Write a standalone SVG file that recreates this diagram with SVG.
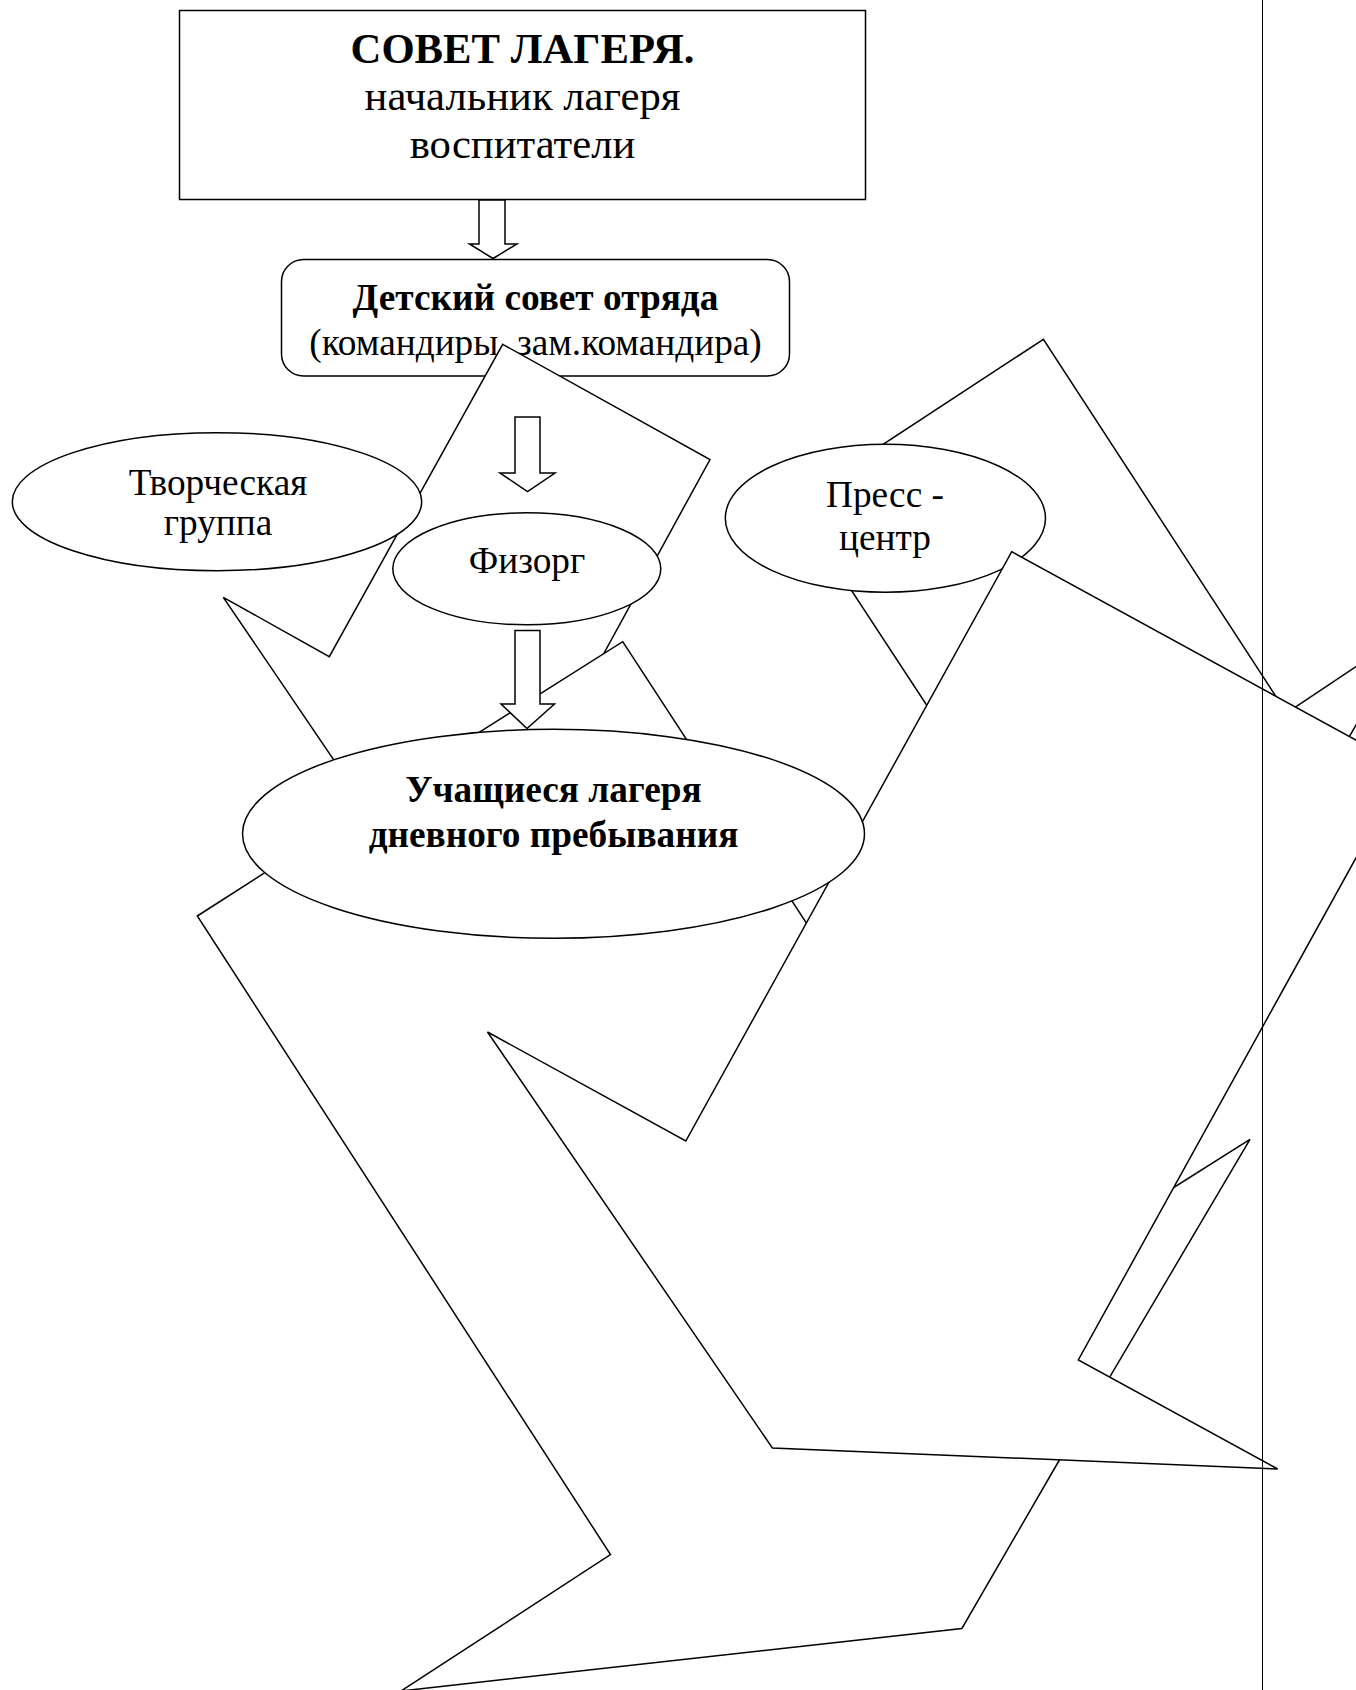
<svg xmlns="http://www.w3.org/2000/svg" width="1356" height="1690" viewBox="0 0 1356 1690">
<style>
.s{fill:#fff;stroke:#000;stroke-width:1.5;stroke-linejoin:miter}
.t{font-family:"Liberation Serif","Times New Roman",serif;font-size:37.3px;text-anchor:middle;fill:#000}
.b{font-weight:bold}
.big{font-size:42.7px}
</style>
<rect width="1356" height="1690" fill="#fff"/>
<g id="sovet-lagerya">
<rect class="s" x="179.5" y="10.5" width="686" height="189"/>
<text class="t big b" x="522.5" y="62.5">СОВЕТ ЛАГЕРЯ.</text>
<text class="t big" x="522.5" y="110">начальник лагеря</text>
<text class="t big" x="522.5" y="158">воспитатели</text>
</g>
<g id="detskiy-sovet">
<rect class="s" x="281.5" y="259.5" width="508" height="116.5" rx="22" ry="22"/>
<text class="t b" x="535.5" y="310">Детский совет отряда</text>
<text class="t" x="535.5" y="355">(командиры, зам.командира)</text>
</g>
<g id="shape-1">
<polygon class="s" points="502.7,344.3 710,459.5 578.4,700 560,780 361,800 223.3,597.3 329.3,656.7"/>
</g>
<g id="tvorcheskaya">
<ellipse class="s" cx="217" cy="501.7" rx="204.7" ry="69"/>
<text class="t" x="218" y="495">Творческая</text>
<text class="t" x="218" y="535">группа</text>
</g>
<g id="fizorg">
<ellipse class="s" cx="526.8" cy="568.8" rx="134" ry="56"/>
<text class="t" x="527" y="573">Физорг</text>
</g>
<g id="shape-5">
<polygon class="s" points="197.3,916 300,850.2 845,860 830.5,960 1088.6,1409.5 1059.4,1460 961.9,1628.5 401,1691 610.5,1554.6"/>
</g>
<g id="shape-2">
<polygon class="s" points="622.7,641.7 830.5,960 845,860 419.5,770"/>
</g>
<g id="connectors">
<polygon class="s" points="479,200 505,200 505,244 517,244 493,258.5 469.5,244 479,244"/>
<polygon class="s" points="515,417 540,417 540,473 555,473 527.5,491.5 500,473 515,473"/>
<polygon class="s" points="515,630.5 540,630.5 540,704 554.5,704 527,728.5 501,704 515,704"/>
</g>
<g id="shape-3">
<polygon class="s" points="1043.4,339.3 794,502.8 960,756 1299.3,732.4"/>
</g>
<g id="press-centr">
<ellipse class="s" cx="885.4" cy="518.3" rx="160.1" ry="74"/>
<text class="t" x="885" y="506.7">Пресс -</text>
<text class="t" x="885" y="550">центр</text>
</g>
<g id="shape-6">
<polygon class="s" points="1280,717.3 1400,637.4 1400,760 1330,760"/>
</g>
<g id="shape-8">
<polygon class="s" points="1343,747.7 1370,700.5 1420,730 1380,790"/>
</g>
<g id="shape-7">
<polygon class="s" points="1250,1139.3 1150,1202.5 1050,1250 1000,1390 1100,1393.6"/>
</g>
<g id="shape-4">
<polygon class="s" points="1011.7,551.7 1406,767.5 1078.3,1360 1277.7,1469 772.4,1448 487.5,1032 685.8,1141"/>
</g>
<g id="uchashchiesya">
<ellipse class="s" cx="553.5" cy="833.8" rx="311" ry="104.5"/>
<text class="t b" x="553.5" y="801.7">Учащиеся лагеря</text>
<text class="t b" x="553.5" y="846.7">дневного пребывания</text>
</g>
<g id="page-edge">
<line x1="1262.5" y1="0" x2="1262.5" y2="1690" stroke="#000" stroke-width="1"/>
</g>
</svg>
